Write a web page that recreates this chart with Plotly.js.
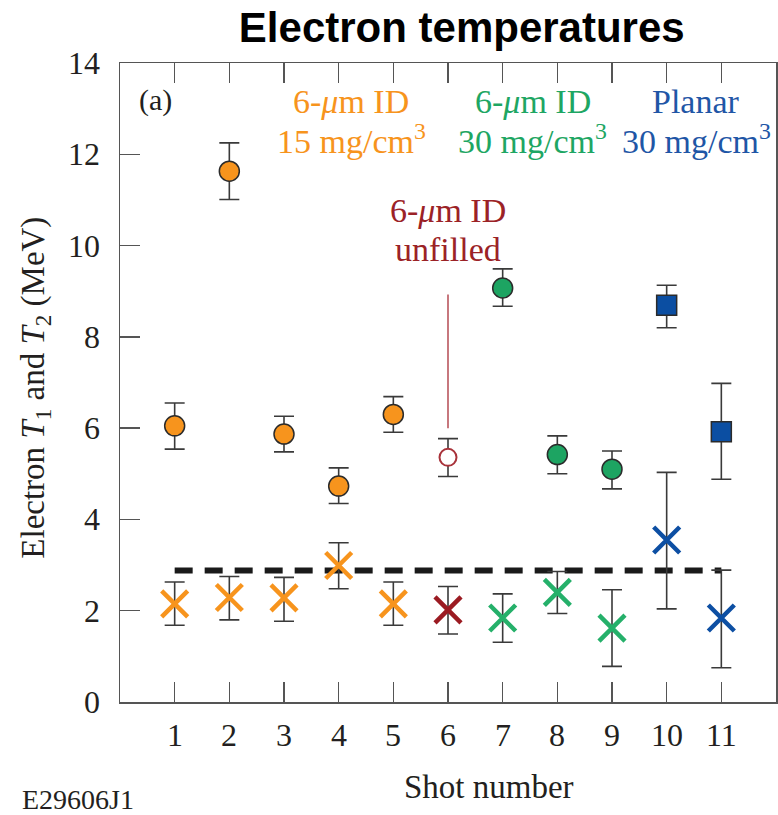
<!DOCTYPE html>
<html>
<head>
<meta charset="utf-8">
<script src="https://cdn.plot.ly/plotly-3.0.1.min.js"></script>
<style>
  html, body { margin: 0; padding: 0; background: #ffffff; }
  #chart { width: 778px; height: 815px; }
</style>
</head>
<body>
<div id="chart"></div>
<script>
// Shot-by-shot electron temperatures: hot (T1) and cold (T2) components
const shots = [1, 2, 3, 4, 5, 6, 7, 8, 9, 10, 11];
const targetGroup = ['id15', 'id15', 'id15', 'id15', 'id15', 'unfilled', 'id30', 'id30', 'id30', 'planar', 'planar'];

// T1 (MeV) with asymmetric error bars
const t1 = [6.05, 11.63, 5.87, 4.73, 6.30, 5.36, 9.07, 5.42, 5.10, 8.69, 5.92];
const t1Plus = [0.50, 0.62, 0.39, 0.40, 0.39, 0.41, 0.42, 0.41, 0.40, 0.44, 1.06];
const t1Minus = [0.51, 0.62, 0.39, 0.38, 0.39, 0.42, 0.40, 0.42, 0.43, 0.49, 1.04];

// T2 (MeV) with asymmetric error bars
const t2 = [2.15, 2.29, 2.28, 2.99, 2.15, 2.02, 1.84, 2.40, 1.62, 3.55, 1.84];
const t2Plus = [0.48, 0.46, 0.45, 0.50, 0.48, 0.51, 0.53, 0.46, 0.84, 1.48, 1.05];
const t2Minus = [0.47, 0.49, 0.51, 0.51, 0.47, 0.53, 0.53, 0.46, 0.84, 1.51, 1.09];

// Reference level drawn as a dashed line across the shots
const refX = [1, 11];
const refY = [2.88, 2.88];

// Marker to annotation link for the unfilled target
const unfilledLinkX = [6, 6];
const unfilledLinkY = [8.93, 6.0];

// Axis ticks and their labels
const xTickVals = [1, 2, 3, 4, 5, 6, 7, 8, 9, 10, 11];
const xTickText = ['1', '2', '3', '4', '5', '6', '7', '8', '9', '10', '11'];
const yTickVals = [0, 2, 4, 6, 8, 10, 12, 14];
const yTickText = ['0', '2', '4', '6', '8', '10', '12', '14'];

// Target labels, one line per entry
const labelLines = [
  { x: 4.23, y: 13.15, text: '6-<i>μ</i>m ID', color: '#F7941D' },
  { x: 4.23, y: 12.33, text: '15 mg/cm<sup>3</sup>', color: '#F7941D' },
  { x: 7.55, y: 13.15, text: '6-<i>μ</i>m ID', color: '#1EA663' },
  { x: 7.55, y: 12.33, text: '30 mg/cm<sup>3</sup>', color: '#1EA663' },
  { x: 10.54, y: 13.15, text: 'Planar', color: '#1F56A6' },
  { x: 10.54, y: 12.33, text: '30 mg/cm<sup>3</sup>', color: '#1F56A6' },
  { x: 6.0, y: 10.76, text: '6-<i>μ</i>m ID', color: '#9B2226' },
  { x: 6.0, y: 9.92, text: 'unfilled', color: '#9B2226' }
];

const styles = {
  id15:     { fill: '#F7941D', xcolor: '#F7941D', symbol: 'circle', hollow: false },
  unfilled: { fill: '#ffffff', xcolor: '#9B1B22', symbol: 'circle', hollow: true, outline: '#A8323A' },
  id30:     { fill: '#1DA462', xcolor: '#25B06A', symbol: 'circle', hollow: false },
  planar:   { fill: '#0B4EA2', xcolor: '#0D4FA3', symbol: 'square', hollow: false }
};

const errColor = '#3a3a3a';
const traces = [];

Object.keys(styles).forEach(function (g) {
  const idx = shots.map(function (_, i) { return i; }).filter(function (i) { return targetGroup[i] === g; });
  const pick = function (arr) { return idx.map(function (i) { return arr[i]; }); };
  const s = styles[g];

  // cold component (x marks)
  traces.push({
    type: 'scatter', mode: 'markers',
    x: pick(shots), y: pick(t2),
    error_y: { type: 'data', symmetric: false, array: pick(t2Plus), arrayminus: pick(t2Minus),
               color: errColor, thickness: 1.6, width: 10 },
    marker: { symbol: 'x-thin', size: 26, line: { color: s.xcolor, width: 4.5 } },
    showlegend: false, hoverinfo: 'x+y'
  });

  // hot component
  traces.push({
    type: 'scatter', mode: 'markers',
    x: pick(shots), y: pick(t1),
    error_y: { type: 'data', symmetric: false, array: pick(t1Plus), arrayminus: pick(t1Minus),
               color: errColor, thickness: 1.6, width: 10 },
    marker: {
      symbol: s.symbol, size: s.hollow ? 17 : 20, color: s.fill,
      line: { color: s.hollow ? s.outline : '#2b2b2b', width: s.hollow ? 2 : 1.5 }
    },
    showlegend: false, hoverinfo: 'x+y'
  });
});

traces.unshift({
  type: 'scatter', mode: 'lines',
  x: unfilledLinkX, y: unfilledLinkY,
  line: { color: '#B9565D', width: 1.6 },
  showlegend: false, hoverinfo: 'skip'
});

traces.unshift({
  type: 'scatter', mode: 'lines',
  x: refX, y: refY,
  line: { color: '#1a1a1a', width: 6, dash: '18px,12px' },
  showlegend: false, hoverinfo: 'skip'
});

const serif = '"Liberation Serif"';
const textColor = '#231f20';
const axisColor = '#555555';

// plot area: 656 px wide, 639 px tall
const plotW = 656, plotH = 639;

const annotations = labelLines.map(function (l) {
  return {
    xref: 'x', yref: 'y', x: l.x, y: l.y, showarrow: false,
    xanchor: 'center', yanchor: 'middle', text: l.text,
    font: { family: serif, size: 34, color: l.color }
  };
});

// tick labels set a little away from the inward ticks
xTickVals.forEach(function (v, i) {
  annotations.push({
    xref: 'x', yref: 'paper', x: v, y: -33 / plotH, showarrow: false,
    xanchor: 'center', yanchor: 'middle', text: xTickText[i],
    font: { family: serif, size: 32, color: textColor }
  });
});
yTickVals.forEach(function (v, i) {
  annotations.push({
    xref: 'paper', yref: 'y', x: -18 / plotW, y: v, showarrow: false,
    xanchor: 'right', yanchor: 'middle', text: yTickText[i],
    font: { family: serif, size: 32, color: textColor }
  });
});

annotations.push(
  { xref: 'paper', yref: 'paper', x: (488.5 - 120) / plotW, y: -(787 - 702.3) / plotH,
    xanchor: 'center', yanchor: 'middle', showarrow: false,
    text: 'Shot number', font: { family: serif, size: 33, color: textColor } },
  { xref: 'paper', yref: 'paper', x: (36 - 120) / plotW, y: (702.3 - 388) / plotH,
    xanchor: 'center', yanchor: 'middle', showarrow: false, textangle: -90,
    text: 'Electron <i>T</i><sub>1</sub> and <i>T</i><sub>2</sub> (MeV)',
    font: { family: serif, size: 33, color: textColor } },
  { xref: 'paper', yref: 'paper', x: (137 - 120) / plotW, y: (702.3 - 100) / plotH,
    xanchor: 'left', yanchor: 'middle', showarrow: false,
    text: '(a)', font: { family: serif, size: 30, color: textColor } },
  { xref: 'paper', yref: 'paper', x: (20 - 120) / plotW, y: (702.3 - 800) / plotH,
    xanchor: 'left', yanchor: 'middle', showarrow: false,
    text: 'E29606J1', font: { family: serif, size: 28, color: textColor } }
);

const layout = {
  width: 778, height: 815,
  margin: { l: 120, r: 2, t: 63, b: 113 },
  paper_bgcolor: '#ffffff', plot_bgcolor: '#ffffff',
  title: {
    text: '<b>Electron temperatures</b>',
    font: { family: '"Liberation Sans"', size: 42, color: '#000000' },
    xref: 'paper', x: 0.521, xanchor: 'center',
    yref: 'container', y: 0.967, yanchor: 'middle'
  },
  xaxis: {
    range: [0, 12], tickvals: xTickVals, showticklabels: false,
    ticks: 'inside', ticklen: 20, tickwidth: 1.5, tickcolor: axisColor,
    showline: true, linecolor: axisColor, linewidth: 1.5, mirror: 'ticks',
    showgrid: false, zeroline: false
  },
  yaxis: {
    range: [0, 14], tickvals: yTickVals, showticklabels: false,
    ticks: 'inside', ticklen: 20, tickwidth: 1.5, tickcolor: axisColor,
    showline: true, linecolor: axisColor, linewidth: 1.5, mirror: true,
    showgrid: false, zeroline: false
  },
  annotations: annotations
};

Plotly.newPlot('chart', traces, layout, { staticPlot: true, displayModeBar: false });
</script>
</body>
</html>
